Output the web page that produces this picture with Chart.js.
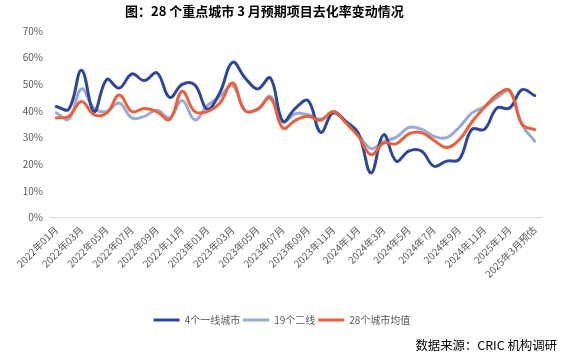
<!DOCTYPE html>
<html><head><meta charset="utf-8">
<script src="https://cdn.jsdelivr.net/npm/chart.js@4"></script>
<style>
html,body{margin:0;padding:0;background:#fff;}
#wrap{position:relative;width:564px;height:357px;overflow:hidden;background:#fff;}
#title{position:absolute;left:125px;top:3px;font:bold 13px "Noto Sans CJK SC",sans-serif;line-height:15px;color:#000;white-space:nowrap;}
#source{position:absolute;right:7px;top:337px;font:12.4px "Noto Sans CJK SC",sans-serif;line-height:17px;color:#000;white-space:nowrap;}
canvas{position:absolute;left:0;top:0;}
</style></head><body>
<div id="wrap"><canvas id="c" width="564" height="357"></canvas>
<div id="title">图：28 个重点城市 3 月预期项目去化率变动情况</div>
<div id="source">数据来源：CRIC 机构调研</div></div>
<script>
const categories = [
  "2022年01月","2022年02月","2022年03月","2022年04月","2022年05月","2022年06月",
  "2022年07月","2022年08月","2022年09月","2022年10月","2022年11月","2022年12月",
  "2023年01月","2023年02月","2023年03月","2023年04月","2023年05月","2023年06月",
  "2023年07月","2023年08月","2023年09月","2023年10月","2023年11月","2023年12月",
  "2024年1月","2024年2月","2024年3月","2024年4月","2024年5月","2024年6月",
  "2024年7月","2024年8月","2024年9月","2024年10月","2024年11月","2024年12月",
  "2025年1月","2025年2月","2025年3月预估"
];
const seriesNames = ["4个一线城市", "19个二线", "28个城市均值"];
const tier1 = [41.7, 40.7, 55.3, 39.8, 51.8, 48.6, 53.9, 51.4, 54.3, 45.1,
               50.0, 49.8, 40.7, 47.0, 58.3, 52.4, 48.3, 52.4, 36.1, 41.1,
               43.9, 32.0, 39.5, 36.1, 31.6, 16.8, 31.1, 21.2, 25.0, 25.0,
               19.3, 21.2, 21.8, 33.1, 33.1, 41.1, 41.1, 48.0, 45.8];
const tier2 = [39.3, 37.0, 48.3, 41.1, 39.8, 43.0, 37.4, 38.0, 40.3, 37.4,
               43.9, 36.7, 42.0, 45.5, 49.5, 40.1, 40.7, 45.5, 36.1, 39.0,
               38.6, 37.0, 39.2, 36.1, 31.1, 25.9, 28.5, 30.2, 33.8, 33.2,
               30.5, 30.0, 33.9, 39.2, 41.6, 45.0, 47.4, 34.8, 28.7];
const avg28 = [37.4, 38.0, 43.6, 38.6, 39.2, 46.0, 39.8, 40.9, 39.7, 36.8,
               47.4, 39.8, 39.8, 43.0, 50.5, 40.1, 40.7, 44.9, 33.6, 36.5,
               38.0, 36.5, 39.8, 35.5, 30.5, 23.6, 28.0, 27.7, 31.4, 31.9,
               29.0, 26.3, 29.2, 35.8, 41.3, 46.1, 47.8, 35.0, 33.0];
const yTicks = [0, 10, 20, 30, 40, 50, 60, 70];

const C1 = '#2f4797', C2 = '#9da9d5', C3 = '#e9603d';
const FAM = '"Noto Sans CJK SC", "Noto Sans", sans-serif';

new Chart(document.getElementById('c'), {
  type: 'line',
  data: {
    labels: categories,
    datasets: [
      {label: seriesNames[0], data: tier1, borderColor: C1, backgroundColor: C1, borderWidth: 3, order: 1},
      {label: seriesNames[1], data: tier2, borderColor: C2, backgroundColor: C2, borderWidth: 3, order: 2},
      {label: seriesNames[2], data: avg28, borderColor: C3, backgroundColor: C3, borderWidth: 3, order: 0}
    ]
  },
  options: {
    responsive: false,
    animation: false,
    layout: {padding: {top: 31, left: 0, right: 0, bottom: 22}},
    elements: {
      point: {radius: 0},
      line: {tension: 0.4, borderCapStyle: 'round', borderJoinStyle: 'round', fill: false}
    },
    plugins: {
      title: {display: false},
      tooltip: {enabled: false},
      legend: {
        position: 'bottom',
        labels: {
          boxWidth: 26, boxHeight: 3, padding: 3, color: '#595959',
          font: {size: 10, family: FAM},
          generateLabels: chart => chart.data.datasets.map((d, i) => ({
            text: d.label, fillStyle: d.borderColor, strokeStyle: d.borderColor,
            lineWidth: 0, hidden: false, datasetIndex: i, fontColor: '#595959'
          }))
        }
      }
    },
    scales: {
      x: {
        offset: true,
        grid: {display: false, drawTicks: false},
        border: {display: true, color: '#d9d9d9', width: 1},
        ticks: {
          autoSkip: false, maxRotation: 45, minRotation: 45, padding: 6,
          color: '#595959', font: {size: 10, family: FAM},
          callback: (v, i) => (i % 2 === 0 ? categories[i] : null)
        },
        afterFit: s => { s.height = 94.3; }
      },
      y: {
        min: 0, max: 70,
        afterBuildTicks: s => { s.ticks = yTicks.map(v => ({value: v})); },
        ticks: {padding: 7, color: '#595959', font: {size: 10, family: FAM}, callback: v => v + '%'},
        grid: {display: false, drawTicks: false},
        border: {display: false},
        afterFit: s => { s.width = 50; }
      },
      yR: {
        position: 'right',
        grid: {display: false, drawTicks: false},
        border: {display: false},
        ticks: {display: false},
        afterFit: s => { s.width = 23; }
      }
    }
  }
});
</script>
</body></html>
